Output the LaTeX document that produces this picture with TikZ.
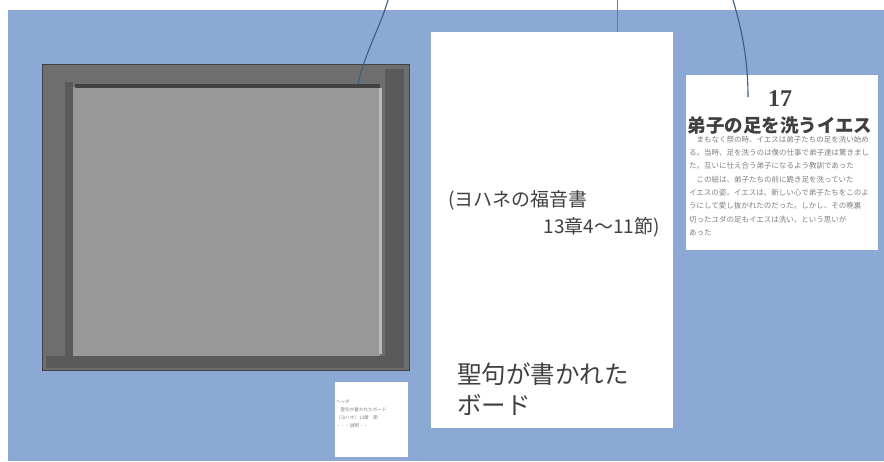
\documentclass[tikz,border=0pt]{standalone}
\usepackage{fontspec}
\setmainfont{Liberation Serif}
\newfontfamily\jp{Noto Sans CJK JP}
\definecolor{bgblue}{RGB}{140,168,212}
\definecolor{framegray}{RGB}{110,110,110}
\definecolor{frameshade}{RGB}{90,90,90}
\definecolor{framedark}{RGB}{66,66,66}
\definecolor{panelgray}{RGB}{152,152,152}
\definecolor{panellight}{RGB}{190,184,186}
\definecolor{wire}{RGB}{62,92,132}
\definecolor{inkgray}{RGB}{64,64,64}
\definecolor{tinytext}{RGB}{128,128,128}
\begin{document}
\begin{tikzpicture}[x=1pt,y=-1pt,
  box/.style={inner sep=0pt,outer sep=0pt,anchor=north west},
  card/.style={box,fill=white},
  wirel/.style={draw=wire,line width=1.1pt},
  jptext/.style={inner sep=0pt,text=inkgray}]
\useasboundingbox (0,0) rectangle (884,461);
\fill[white] (0,0) rectangle (884,461);
% background
\node[box,fill=bgblue,minimum width=876pt,minimum height=451pt] (bg) at (8,10) {};
% picture frame
\node[box,fill=framegray,draw=framedark,line width=0.8pt,minimum width=367pt,minimum height=306pt] (frame) at (42,64) {};
\node[box,fill=frameshade,minimum width=19pt,minimum height=296pt] (rband) at (385,69) {};
\node[box,fill=frameshade,minimum width=358pt,minimum height=12pt] (bband) at (46,356) {};
\node[box,fill=frameshade,minimum width=8pt,minimum height=276pt] (lband) at (65,82) {};
\node[box,fill=panelgray,minimum width=307pt,minimum height=269pt] (panel) at (73,87) {};
\node[box,fill=framedark,minimum width=305pt,minimum height=4pt] (tline) at (75,84) {};
\node[box,fill=panellight,minimum width=3pt,minimum height=266pt] (rline) at (379,88) {};
% small card
\node[card,minimum width=73pt,minimum height=75pt] (small) at (335,382) {};
\node[box,anchor=north west,font=\jp\fontsize{4.6}{7.8}\selectfont,align=left,text=tinytext] (smalltext) at (336,400)
  {ヘッダ\\　聖句が書かれたボード\\（ヨハネ）13章　節\\・・・説明・・};
% board
\node[card,minimum width=242pt,minimum height=396pt] (board) at (431,32) {};
\node[jptext,anchor=west,font=\jp\fontsize{19}{19}\selectfont] (john1) at (448,200) {(ヨハネの福音書};
\node[jptext,anchor=east,font=\jp\fontsize{19}{19}\selectfont] (john2) at (660,227) {13章4～11節)};
\node[jptext,anchor=west,align=left,font=\jp\fontsize{24.5}{31}\selectfont] (boardlabel) at (457,389) {聖句が書かれた\\ボード};
% right card
\node[card,minimum width=192pt,minimum height=175pt] (card) at (686,75) {};
\node[jptext,font=\bfseries\fontsize{24}{24}\selectfont] (num) at (780,99) {17};
\node[jptext,font=\jp\bfseries\fontsize{18.5}{18.5}\selectfont] (title) at (780,125) {弟子の足を洗うイエス};
\node[box,anchor=north west,font=\jp\fontsize{7.5}{13.3}\selectfont,align=left,text=tinytext] (story) at (689,136)
  {　まもなく祭の時、イエスは弟子たちの足を洗い始め\\
   る。当時、足を洗うのは僕の仕事で弟子達は驚きまし\\
   た。互いに仕え合う弟子になるよう教訓であった\\
   　この絵は、弟子たちの前に跪き足を洗っていた\\
   イエスの姿。イエスは、新しい心で弟子たちをこのよ\\
   うにして愛し抜かれたのだった。しかし、その晩裏\\
   切ったユダの足もイエスは洗い、という思いが\\
   あった};
% connectors
\coordinate (top1) at (388,0);
\coordinate (end1) at (358,84);
\coordinate (top2) at (617,0);
\coordinate (top3) at (733,0);
\coordinate (end3) at (748,97);
\draw[wirel] (top1) .. controls (381,25) and (364,55) .. (end1);
\draw[wirel,line width=0.8pt,draw=wire!80] (top2) -- (top2 |- board.north);
\draw[wirel] (top3) .. controls (742,30) and (748,60) .. (end3);
\end{tikzpicture}
\end{document}
